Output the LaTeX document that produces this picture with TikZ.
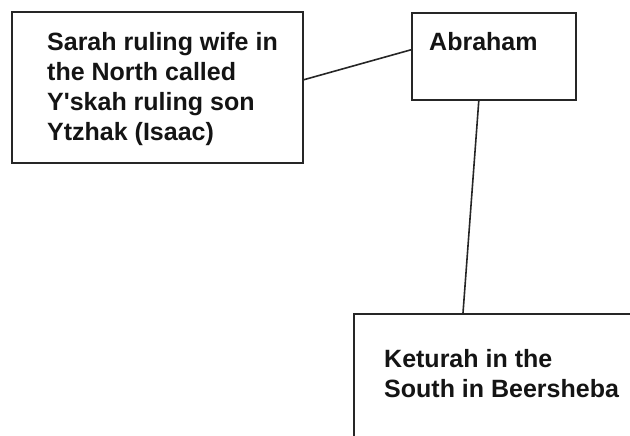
\documentclass[tikz,border=0pt]{standalone}
\usepackage{fontspec}
\setmainfont{Liberation Sans}[Ligatures=TeXOff]
\begin{document}
\begin{tikzpicture}[x=1pt,y=-1pt,
  box/.style={draw=black!85,line width=1.6pt,rectangle,inner sep=0pt,anchor=north west},
  lbl/.style={font=\fontsize{25}{30}\selectfont\bfseries,text=black!92,align=left,anchor=base west,inner sep=0pt},
  link/.style={draw=black!85,line width=1.6pt}]
\useasboundingbox (0,0) rectangle (630,436);
\clip (0,0) rectangle (630,436);
% boxes
\node[box,minimum width=291pt,minimum height=151pt] (sarahbox) at (11,11) {};
\node[box,minimum width=164pt,minimum height=87pt] (abrahambox) at (411,12) {};
\node[box,minimum width=300pt,minimum height=150pt] (keturahbox) at (353,313) {};
% texts (base anchor = baseline of last line)
\node[lbl] (sarah) at (47,140) {Sarah ruling wife in\\the North called\\Y'skah ruling son\\Ytzhak (Isaac)};
\node[lbl] (abraham) at (429,51) {Abraham};
\node[lbl] (keturah) at (384,397) {Keturah in the\\South in Beersheba};
% connectors
\draw[link] ([yshift=7.5pt]sarahbox.east) -- ([yshift=6.5pt]abrahambox.west);
\draw[link] ([xshift=-15pt]abrahambox.south) -- ([xshift=110pt]keturahbox.north west);
\end{tikzpicture}
\end{document}
